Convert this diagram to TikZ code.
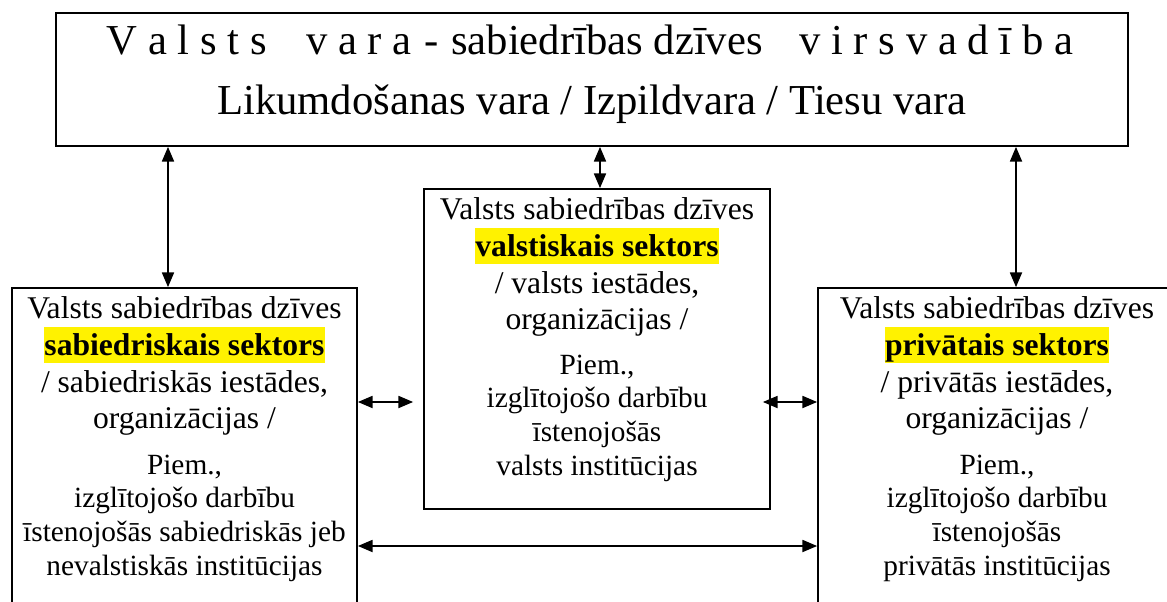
\documentclass[tikz,border=0pt]{standalone}
\usepackage{fontspec}
\setmainfont{Liberation Serif}
\usetikzlibrary{arrows.meta,calc,positioning}
\newcommand\ls{\hspace{8pt}}
\newcommand\hl[1]{{\fboxsep=0pt\colorbox{yellow}{\rule[-0.25em]{0pt}{1.15em}\textbf{#1}}}}
\begin{document}
\begin{tikzpicture}[x=0.75pt, y=-0.75pt, line width=1.3pt, >={Triangle[length=11pt,width=9pt]},
 kaste/.style={draw, inner sep=0pt},
 virs/.style={font=\fontsize{32}{38}\selectfont, anchor=base, inner sep=0pt},
 sekt/.style={font=\fontsize{23.7}{28}\selectfont, anchor=base, inner sep=0pt},
 piem/.style={font=\fontsize{22}{26}\selectfont, anchor=base, inner sep=0pt}]
 \useasboundingbox (0,0) rectangle (1167,601);
 \clip (0,0) rectangle (1167,601);
 % kastes
 \node[kaste, minimum width=804pt, minimum height=99.75pt] (vara) at (592,79.5) {};
 \node[kaste, minimum width=258.75pt, minimum height=271.5pt] (sab) at (184.5,469) {};
 \node[kaste, minimum width=259.5pt, minimum height=240pt] (val) at (597,349) {};
 \node[kaste, minimum width=268.5pt, minimum height=271.5pt] (priv) at (997,469) {};
 % valsts vara
 \node[virs] (vara1) at ($(vara.north)+(-2,42)$) {V\ls a\ls l\ls s\ls t\ls s\hspace{29.5pt}v\ls a\ls r\ls a\hspace{10pt}-\hspace{9pt}sabiedrības dzīves\hspace{27.5pt}v\ls i\ls r\ls s\ls v\ls a\ls d\ls ī\ls b\ls a};
 \node[virs] (vara2) at ($(vara.north)+(0,102)$) {Likumdošanas vara / Izpildvara / Tiesu vara};
 % sabiedriskais sektors
 \foreach \t [count=\i from 0] in {Valsts sabiedrības dzīves, \hl{sabiedriskais sektors}, {/ sabiedriskās iestādes,}, organizācijas /}
  \node[sekt] (sab\i) at ($(sab.north)+(0,{31.5+36.7*\i})$) {\t};
 \foreach \t [count=\i from 0] in {{Piem.,}, izglītojošo darbību, īstenojošās sabiedriskās jeb, nevalstiskās institūcijas}
  \node[piem] (sabp\i) at ($(sab.north)+(0,{187+33.7*\i})$) {\t};
 % valstiskais sektors
 \foreach \t [count=\i from 0] in {Valsts sabiedrības dzīves, \hl{valstiskais sektors}, {/ valsts iestādes,}, organizācijas /}
  \node[sekt] (val\i) at ($(val.north)+(0,{31.5+36.7*\i})$) {\t};
 \foreach \t [count=\i from 0] in {{Piem.,}, izglītojošo darbību, īstenojošās, valsts institūcijas}
  \node[piem] (valp\i) at ($(val.north)+(0,{186+33.7*\i})$) {\t};
 % privatais sektors
 \foreach \t [count=\i from 0] in {Valsts sabiedrības dzīves, \hl{privātais sektors}, {/ privātās iestādes,}, organizācijas /}
  \node[sekt] (priv\i) at ($(priv.north)+(0,{31.5+36.7*\i})$) {\t};
 \foreach \t [count=\i from 0] in {{Piem.,}, izglītojošo darbību, īstenojošās, privātās institūcijas}
  \node[piem] (privp\i) at ($(priv.north)+(0,{187+33.7*\i})$) {\t};
 % bultas
 \draw[<->] (vara.south -| 168,0) -- (sab.north -| 168,0);
 \draw[<->] (vara.south -| 600,0) -- (val.north -| 600,0);
 \draw[<->] (vara.south -| 1016,0) -- (priv.north -| 1016,0);
 \draw[<->, shorten >=7.5pt] (sab.east |- 0,402) -- (val.west |- 0,402);
 \draw[<->, shorten <=-6pt] (val.east |- 0,402) -- (priv.west |- 0,402);
 \draw[<->] (sab.east |- 0,546) -- (priv.west |- 0,546);
\end{tikzpicture}
\end{document}
